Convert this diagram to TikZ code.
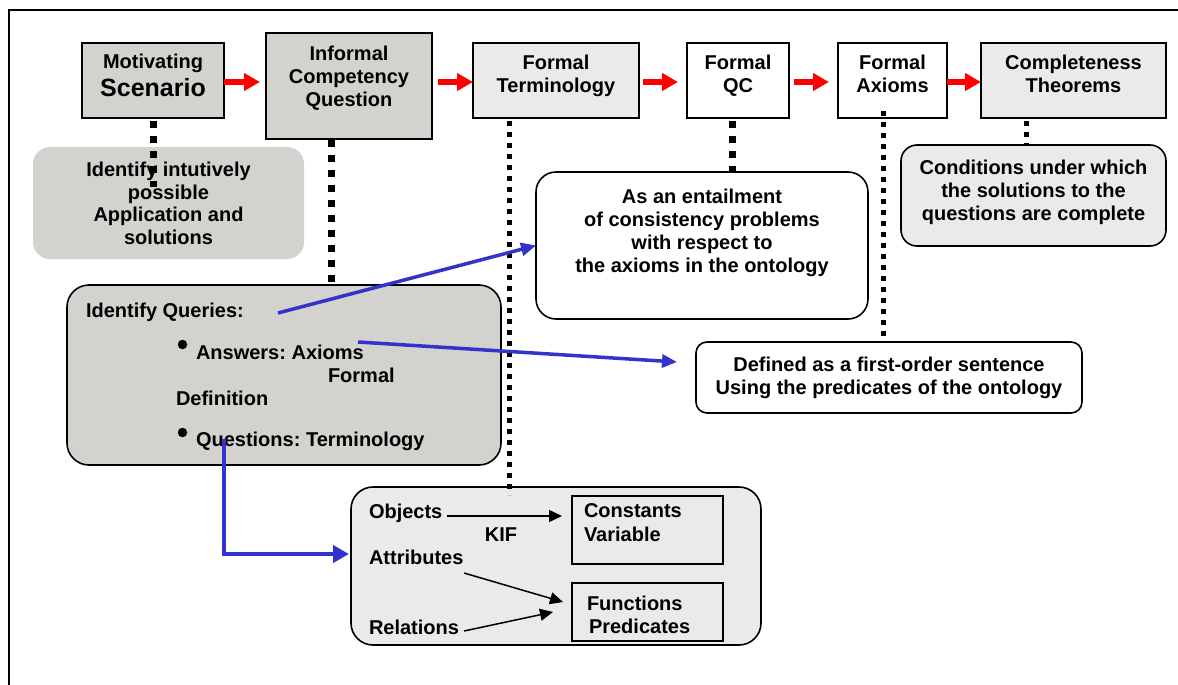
\documentclass[tikz,border=0pt]{standalone}
\usepackage{fontspec}
\setmainfont{Liberation Sans}
\usetikzlibrary{arrows.meta,calc}
\frenchspacing
\definecolor{gA}{RGB}{212,210,206}
\definecolor{gB}{RGB}{235,234,232}
\definecolor{bl}{RGB}{51,51,204}
\definecolor{rd}{RGB}{255,0,0}
\tikzset{
 every node/.style={inner sep=0pt, outer sep=0pt, font=\bfseries\fontsize{20}{23.2}\selectfont},
 topbox/.style={draw=black, line width=2pt, anchor=north west},
 rbox/.style={draw=black, line width=1.6pt, anchor=north west},
 txt/.style={anchor=north, align=center},
 ltxt/.style={anchor=north west, align=left},
 redarrow/.style={draw=rd, line width=5pt, -{Triangle[length=16pt,width=17pt]}},
 bluearrow/.style={draw=bl, line width=3.5pt, -{Triangle[length=15pt,width=13pt]}},
 blkarrow/.style={draw=black, line width=1.5pt, -{Triangle[length=13pt,width=12pt]}},
 bigdots/.style={draw=black, line width=7pt, dash pattern=on 7pt off 8pt},
 smalldots/.style={draw=black, line width=5pt, dash pattern=on 5pt off 6pt},
 bullet/.style={circle, fill=black, minimum size=9.5pt},
}
\begin{document}
\begin{tikzpicture}[x=1pt,y=-1pt]
\useasboundingbox (0,0) rectangle (1178,685);
\fill[white] (0,0) rectangle (1178,685);
% frame
\coordinate (fTL) at (9,10);
\coordinate (fTR) at (1178,10);
\coordinate (fBL) at (9,685);
\draw[line width=2pt] (fTR) -- (fTL) -- (fBL);

% top row boxes
\node[topbox, fill=gA, minimum width=142pt, minimum height=75pt] (mot) at (82,43) {};
\node[topbox, fill=gA, minimum width=166pt, minimum height=106pt] (inf) at (266,33) {};
\node[topbox, fill=gB, minimum width=166pt, minimum height=75pt] (ft) at (473,43) {};
\node[topbox, fill=white, minimum width=102pt, minimum height=75pt] (fqc) at (687,43) {};
\node[topbox, fill=white, minimum width=109pt, minimum height=75pt] (fax) at (838,43) {};
\node[topbox, fill=gB, minimum width=185pt, minimum height=75pt] (cth) at (981,43) {};

\node[txt] (motT1) at (153,54) {Motivating};
\node[txt, font=\bfseries\fontsize{25}{28}\selectfont] (motT2) at (153,78) {Scenario};
\node[txt] (infT) at (349,46) {Informal\\Competency\\Question};
\node[txt] (ftT) at (556,55) {Formal\\Terminology};
\node[txt] (fqcT) at (738,55) {Formal\\QC};
\node[txt] (faxT) at (892.5,55) {Formal\\Axioms};
\node[txt] (cthT) at (1073.5,55) {Completeness\\Theorems};

% red arrows
\draw[redarrow, shorten >=6pt] ([yshift=-1.5pt]mot.east) -- ([yshift=-1.5pt]inf.west |- mot.east);
\draw[redarrow, shorten <=6pt] ([yshift=-1.5pt]inf.east |- mot.east) -- ([yshift=-1.5pt]ft.west);
\draw[redarrow, shorten <=4pt, shorten >=9pt] ([yshift=-1.5pt]ft.east) -- ([yshift=-1.5pt]fqc.west);
\draw[redarrow, shorten <=5pt, shorten >=9pt] ([yshift=-1.5pt]fqc.east) -- ([yshift=-1.5pt]fax.west);
\draw[redarrow] ([yshift=-1.5pt]fax.east) -- ([yshift=-1.5pt]cth.west);

% rounded boxes
\node[rbox, draw=none, fill=gA, rounded corners=17pt, minimum width=271pt, minimum height=112pt] (idi) at (33,147) {};
\node[txt, font=\bfseries\fontsize{20}{22.7}\selectfont] (idiT) at (168.5,162) {Identify intutively\\possible\\Application and\\solutions};

\node[rbox, fill=gA, rounded corners=22pt, minimum width=434pt, minimum height=180pt] (idq) at (67,285) {};
\node[ltxt] (iq) at (86,303) {Identify Queries:};
\node[bullet] (bul1) at (182.5,344.5) {};
\node[ltxt] (ans) at (196,345) {Answers: Axioms};
\node[ltxt] (frm) at (328,368) {Formal};
\node[ltxt] (dfn) at (176,391) {Definition};
\node[bullet] (bul2) at (182.5,432.5) {};
\node[ltxt] (qst) at (196,432) {Questions: Terminology};

\node[rbox, fill=white, rounded corners=20pt, minimum width=332pt, minimum height=147pt] (qce) at (536,172) {};
\node[txt, font=\bfseries\fontsize{20}{23}\selectfont] (qceT) at (702,189) {As an entailment\\of consistency problems\\with respect to\\the axioms in the ontology};

\node[rbox, fill=white, rounded corners=11pt, minimum width=386pt, minimum height=71pt] (def) at (696,342) {};
\node[txt] (defT) at (889,357) {Defined as a first-order sentence\\Using the predicates of the ontology};

\node[rbox, fill=gB, rounded corners=16pt, minimum width=265pt, minimum height=101pt] (cond) at (901,145) {};
\node[txt] (condT) at (1033.5,160) {Conditions under which\\the solutions to the\\questions are complete};

% KIF box
\node[rbox, fill=gB, rounded corners=22pt, minimum width=410pt, minimum height=158pt] (kif) at (351,487) {};
\node[topbox, fill=gB, line width=1.8pt, minimum width=151pt, minimum height=68pt] (cv) at (572,496) {};
\node[topbox, fill=gB, line width=1.8pt, minimum width=151pt, minimum height=58pt] (fp) at (572,583) {};
\node[ltxt] (obj) at (369,504) {Objects};
\node[ltxt] (att) at (369,550) {Attributes};
\node[ltxt] (rel) at (369,620) {Relations};
\node[txt] (kifT) at (501,528) {KIF};
\node[ltxt] (cvT) at (584,504) {Constants\\Variable};
\node[ltxt] (fpT1) at (587,596) {Functions};
\node[ltxt] (fpT2) at (589,619.3) {Predicates};

% dotted connectors
\coordinate (d1a) at (153,121); \coordinate (d1b) at (153,187);
\coordinate (d2a) at (331,140); \coordinate (d2b) at (331,282);
\coordinate (d3a) at (509,121); \coordinate (d3b) at (509,495);
\coordinate (d4a) at (732,121); \coordinate (d4b) at (732,172);
\coordinate (d5a) at (883,111); \coordinate (d5b) at (883,341);
\coordinate (d6a) at (1026,121); \coordinate (d6b) at (1026,145);
\draw[bigdots] (d1a) -- (d1b);
\draw[bigdots] (d2a) -- (d2b);
\draw[smalldots] (d3a) -- (d3b);
\draw[bigdots] (d4a) -- (d4b);
\draw[smalldots] (d5a) -- (d5b);
\draw[smalldots] (d6a) -- (d6b);

% blue arrows
\coordinate (b1s) at (278,313);
\draw[bluearrow] (b1s) -- (qce.west);
\coordinate (b2s) at (358,342);
\coordinate (b2e) at (677,362);
\draw[bluearrow] (b2s) -- (b2e);
\coordinate (b3s) at (224,439);
\coordinate (b3e) at (349,554);
\draw[bluearrow, line width=4.5pt, -{Triangle[length=16pt,width=17pt]}] (b3s) |- (b3e);

% black arrows
\coordinate (k1s) at (447,516); \coordinate (k1e) at (562,516);
\coordinate (k2s) at (464,573); \coordinate (k2e) at (563,602);
\coordinate (k3s) at (464,631); \coordinate (k3e) at (553,612);
\draw[blkarrow] (k1s) -- (k1e);
\draw[blkarrow] (k2s) -- (k2e);
\draw[blkarrow] (k3s) -- (k3e);
\end{tikzpicture}
\end{document}
